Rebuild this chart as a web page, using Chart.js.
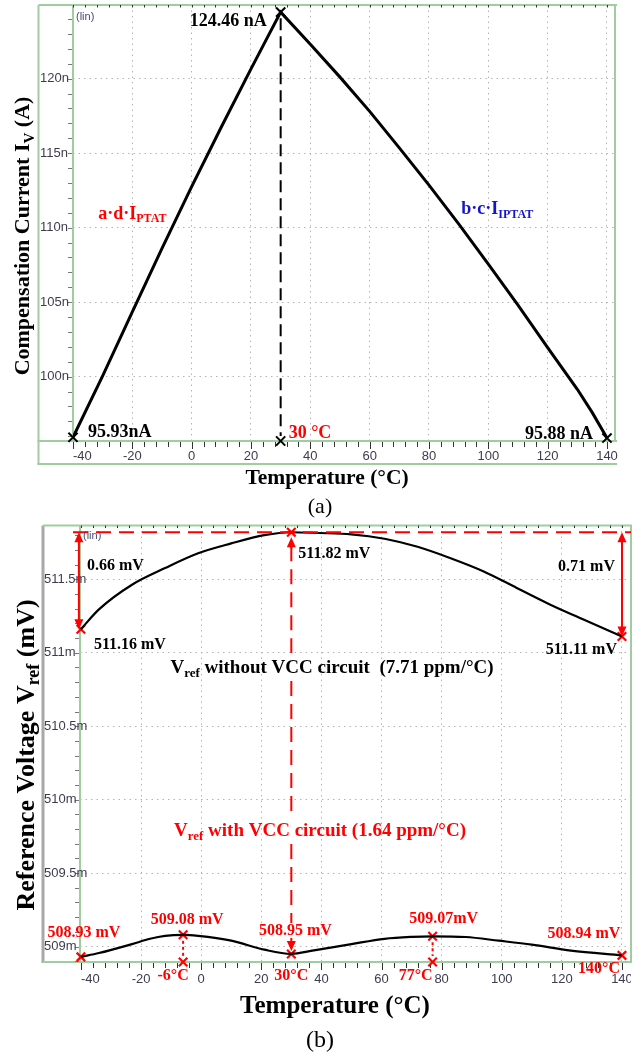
<!DOCTYPE html>
<html>
<head>
<meta charset="utf-8">
<script src="https://cdn.jsdelivr.net/npm/chart.js@4.4.1/dist/chart.umd.min.js"></script>
<style>
  body { margin: 0; background: #fff; }
  canvas { display: block; }
</style>
</head>
<body>
<canvas id="chartA" width="641" height="520"></canvas>
<canvas id="chartB" width="641" height="536"></canvas>
<script>
// (a) compensation current vs temperature
const tempA = [-40, -30, -20, -10, 0, 10, 20, 30, 40, 50, 60, 70, 80, 90, 100, 110, 120, 130, 135, 140];
const currentA = [95.93, 100.05, 104.35, 108.6, 112.75, 116.75, 120.65, 124.46, 122.3, 120.1, 117.8, 115.35, 112.85, 110.25, 107.55, 104.8, 101.95, 99.15, 97.6, 95.88];
const markTempA = [-40, 30, 140];
const markValA = [95.93, 124.46, 95.88];
const markLabelA = ['95.93nA', '124.46 nA', '95.88 nA'];

// (b) reference voltage, without and with the VCC circuit
const tempNoVcc = [-40, -34, -23, -12, -1, 10, 21, 30, 39, 50, 61, 72, 83, 94, 105, 116, 127, 140];
const vrefNoVcc = [511.16, 511.295, 511.463, 511.576, 511.677, 511.744, 511.80, 511.82, 511.815, 511.806, 511.776, 511.721, 511.643, 511.553, 511.441, 511.329, 511.228, 511.11];
const tempVcc = [-40, -34, -23, -17, -12, -6, -1, 10, 21, 30, 37, 50, 61, 70, 77, 88, 99, 110, 123, 140];
const vrefVcc = [508.93, 508.956, 509.017, 509.053, 509.073, 509.08, 509.073, 509.04, 508.979, 508.95, 508.972, 509.017, 509.053, 509.066, 509.07, 509.065, 509.04, 509.013, 508.972, 508.94];
const markTempNoVcc = [-40, 30, 140];
const markValNoVcc = [511.16, 511.82, 511.11];
const markLabelNoVcc = ['511.16 mV', '511.82 mV', '511.11 mV'];
const markTempVcc = [-40, -6, 30, 77, 140];
const markValVcc = [508.93, 509.08, 508.95, 509.07, 508.94];
const markLabelVcc = ['508.93 mV', '509.08 mV', '508.95 mV', '509.07mV', '508.94 mV'];
const tempLabelVcc = ['-6°C', '30°C', '77°C', '140°C'];
const spreadLabels = ['0.66 mV', '0.71 mV'];

// axes
const xTicks = [-40, -20, 0, 20, 40, 60, 80, 100, 120, 140];
const yTicksA = [100, 105, 110, 115, 120];
const yTickLabelsA = ['100n', '105n', '110n', '115n', '120n'];
const yTicksB = [509, 509.5, 510, 510.5, 511, 511.5];
const yTickLabelsB = ['509m', '509.5m', '510m', '510.5m', '511m', '511.5m'];
const xMinA = -40, xMaxA = 142.7, yMinA = 95.68, yMaxA = 124.94;
const xMinB = -40.3, xMaxB = 143, yMinB = 508.895, yMaxB = 511.866;

const GREEN = '#9fcd9f';
const GRID = '#b4b4b4';
const TICK = '#3c3c50';
const RED = '#ff0000';
const BLUE = '#1414cc';
const SERIF = '"Liberation Serif", "Times New Roman", serif';
const SANS = '"Liberation Sans", Arial, sans-serif';

const pts = (xs, ys) => xs.map((t, i) => ({ x: t, y: ys[i] }));

function line(ctx, x1, y1, x2, y2) {
  ctx.beginPath();
  ctx.moveTo(x1, y1);
  ctx.lineTo(x2, y2);
  ctx.stroke();
}

// filled arrow head, tip at (x, y); dir -1 points up, 1 points down
function head(ctx, x, y, dir, color) {
  ctx.fillStyle = color;
  ctx.beginPath();
  ctx.moveTo(x, y);
  ctx.lineTo(x - 4.5, y - dir * 10);
  ctx.lineTo(x + 4.5, y - dir * 10);
  ctx.closePath();
  ctx.fill();
}

function dblArrow(ctx, x, y1, y2, color) {
  ctx.strokeStyle = color;
  ctx.lineWidth = 2;
  ctx.setLineDash([]);
  line(ctx, x, y1 + 8, x, y2 - 8);
  head(ctx, x, y1, -1, color);
  head(ctx, x, y2, 1, color);
}

// text with subscripts; parts = [[text, isSub], ...], y is the visual middle
function rich(ctx, parts, x, y, size, color, align, bold = true) {
  ctx.save();
  ctx.fillStyle = color;
  ctx.textBaseline = 'alphabetic';
  ctx.textAlign = 'left';
  const f = s => (bold ? 'bold ' : '') + s + 'px ' + SERIF;
  const sub = Math.round(size * 0.68);
  let w = 0;
  parts.forEach(p => { ctx.font = f(p[1] ? sub : size); w += ctx.measureText(p[0]).width; });
  let cx = align === 'center' ? x - w / 2 : align === 'right' ? x - w : x;
  const base = y + size * 0.33;
  parts.forEach(p => {
    ctx.font = f(p[1] ? sub : size);
    ctx.fillText(p[0], cx, p[1] ? base + size * 0.2 : base);
    cx += ctx.measureText(p[0]).width;
  });
  ctx.restore();
}

function vTitle(ctx, parts, x, y, size) {
  ctx.save();
  ctx.translate(x, y);
  ctx.rotate(-Math.PI / 2);
  rich(ctx, parts, 0, 0, size, '#000', 'center');
  ctx.restore();
}

// major and minor tick marks around the plot box
function tickMarks(chart, xStep, yStep) {
  const { ctx, chartArea: a, scales: { x, y } } = chart;
  ctx.save();
  ctx.lineWidth = 1;
  ctx.strokeStyle = '#333';
  const last = xTicks[xTicks.length - 1];
  for (let k = Math.ceil(xTicks[0] / xStep); k * xStep <= last; k++) {
    const v = k * xStep;
    const px = Math.round(x.getPixelForValue(v)) + 0.5;
    const major = v % 20 === 0;
    line(ctx, px, a.bottom + 1, px, a.bottom + (major ? 8 : 6));
    line(ctx, px, a.top, px, a.top + 2.5);
  }
  ctx.strokeStyle = '#777';
  for (let k = Math.ceil(y.min / yStep - 1e-9); k * yStep <= y.max; k++) {
    const py = Math.round(y.getPixelForValue(k * yStep)) + 0.5;
    line(ctx, a.left - 5, py, a.left - 1, py);
  }
  ctx.restore();
}

// tick labels: y labels start at a fixed left edge and may run into the plot,
// the first x label starts at its tick, the rest are centred
function tickLabels(chart, yTicks, yLabels, labelX, xPad, clipRight) {
  const { ctx, chartArea: a, scales: { x, y } } = chart;
  ctx.save();
  ctx.font = '13px ' + SANS;
  ctx.fillStyle = TICK;
  ctx.textBaseline = 'middle';
  ctx.textAlign = 'left';
  yTicks.forEach((v, i) => ctx.fillText(yLabels[i], labelX, y.getPixelForValue(v)));
  if (clipRight) {
    ctx.beginPath();
    ctx.rect(0, a.bottom, a.right, chart.height - a.bottom);
    ctx.clip();
  }
  ctx.textBaseline = 'top';
  xTicks.forEach((v, i) => {
    ctx.textAlign = i === 0 ? 'left' : 'center';
    ctx.fillText(String(v), x.getPixelForValue(v), a.bottom + xPad);
  });
  ctx.restore();
}

function xScale(min, max, height) {
  return {
    type: 'linear', min, max,
    afterBuildTicks: s => { s.ticks = xTicks.map(v => ({ value: v })); },
    afterFit: s => { s.height = height; s.paddingLeft = 0; s.paddingRight = 0; },
    grid: {
      drawTicks: false, lineWidth: 1,
      color: c => (c.tick && c.tick.value === xTicks[0] ? 'rgba(0,0,0,0)' : GRID)
    },
    border: { display: false, dash: [1.5, 4] },
    ticks: { display: false }
  };
}

function yScale(min, max, ticks, width) {
  return {
    type: 'linear', min, max,
    afterBuildTicks: s => { s.ticks = ticks.map(v => ({ value: v })); },
    afterFit: s => { s.width = width; s.paddingTop = 0; s.paddingBottom = 0; },
    grid: { drawTicks: false, lineWidth: 1, color: GRID },
    border: { display: false, dash: [1.5, 4] },
    ticks: { display: false }
  };
}

const whiteBg = {
  id: 'whiteBg',
  beforeDraw(chart) {
    const { ctx, width, height } = chart;
    ctx.save();
    ctx.fillStyle = '#fff';
    ctx.fillRect(0, 0, width, height);
    ctx.restore();
  }
};

const decorA = {
  id: 'decorA',
  beforeDatasetsDraw(chart) {
    const { ctx, chartArea: a } = chart;
    ctx.save();
    ctx.strokeStyle = GREEN;
    ctx.lineWidth = 2;
    line(ctx, 38.5, a.top, 38.5, 465);
    line(ctx, 38.5, a.top, a.right + 2, a.top);
    line(ctx, a.left, a.top, a.left, a.bottom);
    line(ctx, a.right, a.top, a.right, a.bottom);
    line(ctx, 37.5, a.bottom, a.right + 2, a.bottom);
    line(ctx, 37.5, 464, a.right + 2, 464);
    ctx.restore();
    tickMarks(chart, 4, 1);
    tickLabels(chart, yTicksA, yTickLabelsA, 40, 9, false);
  },
  afterDraw(chart) {
    const { ctx, chartArea: a, scales: { x, y } } = chart;
    ctx.save();
    // dashed drop from the peak to the temperature axis
    const xp = x.getPixelForValue(markTempA[1]);
    ctx.strokeStyle = '#000';
    ctx.lineWidth = 2;
    ctx.setLineDash([12, 6]);
    line(ctx, xp, y.getPixelForValue(markValA[1]) + 6, xp, a.bottom - 5);
    ctx.setLineDash([]);

    ctx.font = '11px ' + SANS;
    ctx.fillStyle = '#4a4a7a';
    ctx.textBaseline = 'middle';
    ctx.fillText('(lin)', a.left + 3, a.top + 12);

    const offs = [[15, -6, 'left'], [-14, 8, 'right'], [-14, -5, 'right']];
    markTempA.forEach((t, i) => {
      rich(ctx, [[markLabelA[i]]], x.getPixelForValue(t) + offs[i][0], y.getPixelForValue(markValA[i]) + offs[i][1], 18, '#000', offs[i][2]);
    });
    rich(ctx, [['30 °C']], xp + 8, a.bottom - 9, 18, RED, 'left');
    rich(ctx, [['a·d·I'], ['PTAT', true]], x.getPixelForValue(-20), y.getPixelForValue(111), 18, RED, 'center');
    rich(ctx, [['b·c·I'], ['IPTAT', true]], x.getPixelForValue(103), y.getPixelForValue(111.3), 18, BLUE, 'center');

    vTitle(ctx, [['Compensation Current I'], ['V', true], [' (A)']], 22, 236, 22);
    rich(ctx, [['Temperature (°C)']], 327, 477, 21.5, '#000', 'center');
    rich(ctx, [['(a)']], 320, 506, 22, '#000', 'center', false);
    ctx.restore();
  }
};

const decorB = {
  id: 'decorB',
  beforeDatasetsDraw(chart) {
    const { ctx, chartArea: a } = chart;
    ctx.save();
    ctx.strokeStyle = '#a8a8a8';
    ctx.lineWidth = 3;
    line(ctx, 43, a.top, 43, a.bottom + 1);
    ctx.strokeStyle = GREEN;
    ctx.lineWidth = 2;
    line(ctx, 43, a.top, a.right + 1, a.top);
    line(ctx, a.left, a.top, a.left, a.bottom);
    line(ctx, a.right, a.top, a.right, a.bottom);
    line(ctx, 43, a.bottom, a.right + 1, a.bottom);
    ctx.restore();
    tickMarks(chart, 4, 0.1);
    tickLabels(chart, yTicksB, yTickLabelsB, 44, 11, true);
  },
  afterDraw(chart) {
    const { ctx, chartArea: a, scales: { x, y } } = chart;
    ctx.save();
    const xL = x.getPixelForValue(markTempNoVcc[0]);
    const xP = x.getPixelForValue(markTempNoVcc[1]);
    const xR = x.getPixelForValue(markTempNoVcc[2]);
    const yPeak = y.getPixelForValue(markValNoVcc[1]);
    const yLow = y.getPixelForValue(markValVcc[2]);
    const cap1 = 147, cap2 = 310;

    // reference level at the peak of the uncompensated curve
    ctx.strokeStyle = RED;
    ctx.lineWidth = 2;
    ctx.setLineDash([15, 8]);
    line(ctx, a.left - 7, yPeak, a.right, yPeak);
    // dashed drop from the upper peak to the lower curve, broken by the captions
    line(ctx, xP, yPeak + 14, xP, cap1 - 14);
    line(ctx, xP, cap1 + 14, xP, cap2 - 14);
    line(ctx, xP, cap2 + 14, xP, yLow - 31);
    ctx.setLineDash([]);
    line(ctx, xP, yPeak + 12, xP, yPeak + 16);
    head(ctx, xP, yPeak + 5, -1, RED);
    line(ctx, xP, yLow - 16, xP, yLow - 10);
    head(ctx, xP, yLow - 3, 1, RED);

    // spread arrows
    dblArrow(ctx, xL - 2, yPeak, y.getPixelForValue(markValNoVcc[0]), RED);
    dblArrow(ctx, xR, yPeak, y.getPixelForValue(markValNoVcc[2]), RED);

    // dotted drops at the two maxima of the compensated curve
    ctx.strokeStyle = RED;
    ctx.lineWidth = 2;
    ctx.setLineDash([3, 3]);
    [1, 3].forEach(i => {
      const xx = x.getPixelForValue(markTempVcc[i]);
      line(ctx, xx, y.getPixelForValue(markValVcc[i]) + 6, xx, a.bottom - 6);
    });
    ctx.setLineDash([]);

    ctx.font = '11px ' + SANS;
    ctx.fillStyle = '#4a4a7a';
    ctx.textBaseline = 'middle';
    ctx.fillText('(lin)', a.left + 3, a.top + 10);

    // labels of the uncompensated curve
    rich(ctx, [[spreadLabels[0]]], xL + 6, yPeak + 32, 16, '#000', 'left');
    rich(ctx, [[spreadLabels[1]]], xR - 7, yPeak + 33, 16, '#000', 'right');
    const offNo = [[13, 14, 'left'], [7, 20, 'left'], [-5, 12, 'right']];
    markTempNoVcc.forEach((t, i) => {
      rich(ctx, [[markLabelNoVcc[i]]], x.getPixelForValue(t) + offNo[i][0], y.getPixelForValue(markValNoVcc[i]) + offNo[i][1], 16, '#000', offNo[i][2]);
    });

    // labels of the compensated curve
    const offV = [[3, -25], [4, -16], [4, -24], [11, -19], [-38, -23]];
    markTempVcc.forEach((t, i) => {
      rich(ctx, [[markLabelVcc[i]]], x.getPixelForValue(t) + offV[i][0], y.getPixelForValue(markValVcc[i]) + offV[i][1], 16, RED, 'center');
    });
    const offT = [[-10, 13], [0, 13], [-17, 13], [-23, 6]];
    markTempVcc.slice(1).forEach((t, i) => {
      rich(ctx, [[tempLabelVcc[i]]], x.getPixelForValue(t) + offT[i][0], a.bottom + offT[i][1], 16, RED, 'center');
    });

    rich(ctx, [['V'], ['ref', true], [' without VCC circuit  (7.71 ppm/°C)']], 332, cap1, 19, '#000', 'center');
    rich(ctx, [['V'], ['ref', true], [' with VCC circuit (1.64 ppm/°C)']], 320, cap2, 19, RED, 'center');

    vTitle(ctx, [['Reference Voltage V'], ['ref', true], [' (mV)']], 25, 235, 26);
    rich(ctx, [['Temperature (°C)']], 335, 485, 25, '#000', 'center');
    rich(ctx, [['(b)']], 320, 519, 24, '#000', 'center', false);
    ctx.restore();
  }
};

const common = {
  responsive: false,
  animation: false,
  plugins: { legend: { display: false }, tooltip: { enabled: false } }
};

new Chart(document.getElementById('chartA'), {
  type: 'line',
  data: {
    datasets: [
      { data: pts(tempA, currentA), borderColor: '#000', borderWidth: 3, pointRadius: 0, tension: 0 },
      {
        data: pts(markTempA, markValA).concat([{ x: markTempA[1], y: yMinA }]),
        showLine: false, pointStyle: 'crossRot', pointRadius: 6.5, borderColor: '#000', borderWidth: 2, clip: false
      }
    ]
  },
  options: {
    ...common,
    layout: { autoPadding: false, padding: { left: 40, right: 26, top: 5, bottom: 0 } },
    scales: { x: xScale(xMinA, xMaxA, 79), y: yScale(yMinA, yMaxA, yTicksA, 33) }
  },
  plugins: [whiteBg, decorA]
});

new Chart(document.getElementById('chartB'), {
  type: 'line',
  data: {
    datasets: [
      { data: pts(tempNoVcc, vrefNoVcc), borderColor: '#000', borderWidth: 2.2, pointRadius: 0, cubicInterpolationMode: 'monotone' },
      { data: pts(tempVcc, vrefVcc), borderColor: '#000', borderWidth: 2.2, pointRadius: 0, cubicInterpolationMode: 'monotone' },
      {
        data: pts(markTempNoVcc, markValNoVcc)
          .concat(pts(markTempVcc, markValVcc))
          .concat([{ x: markTempVcc[1], y: yMinB }, { x: markTempVcc[3], y: yMinB }]),
        showLine: false, pointStyle: 'crossRot', pointRadius: 6, borderColor: RED, borderWidth: 2.2, clip: false
      }
    ]
  },
  options: {
    ...common,
    layout: { autoPadding: false, padding: { left: 44, right: 10, top: 5.5, bottom: 0 } },
    scales: { x: xScale(xMinB, xMaxB, 94), y: yScale(yMinB, yMaxB, yTicksB, 36) }
  },
  plugins: [whiteBg, decorB]
});
</script>
</body>
</html>
